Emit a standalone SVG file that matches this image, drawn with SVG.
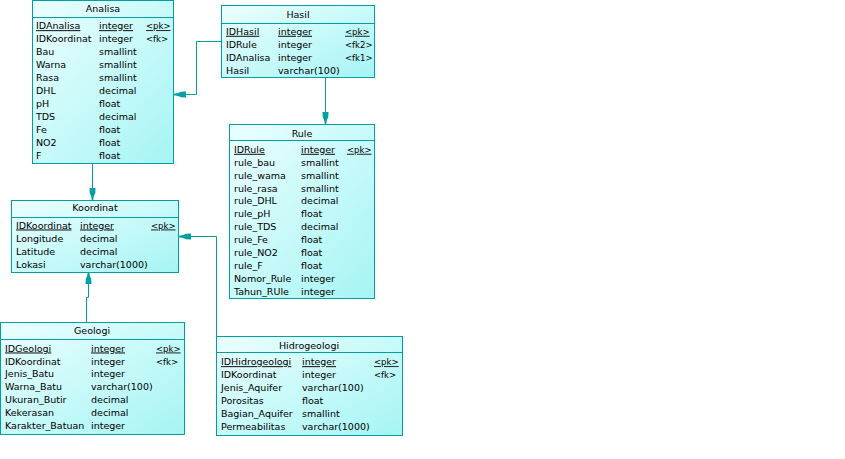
<svg xmlns="http://www.w3.org/2000/svg" width="845" height="459" viewBox="0 0 845 459">
  <style>
    .box { fill: url(#tbl); stroke: #00A0A0; stroke-width: 1; }
    .sep { stroke: #00A0A0; stroke-width: 1; }
    text { font-family: "DejaVu Sans", "Liberation Sans", sans-serif; font-size: 9.5px; fill: #000; }
    .ttl { text-anchor: middle; }
    .u { text-decoration: underline; }
    .k { font-size: 8.5px; }
    .link { fill: none; stroke: #00A0A0; stroke-width: 1; marker-end: url(#arr); }
  </style>
  <defs>
    <linearGradient id="tbl" x1="0" y1="0" x2="1" y2="1">
      <stop offset="0" stop-color="#ECFFFF"/>
      <stop offset="1" stop-color="#A6F4F4"/>
    </linearGradient>
    <marker id="arr" markerWidth="14" markerHeight="8" refX="13" refY="4" orient="auto" markerUnits="userSpaceOnUse" viewBox="0 0 14 8">
      <path d="M13,3.3 L9,2.6 L6,1.2 L1,1 L1,7 L6,6.8 L9,5.4 L13,4.7 Z" fill="#00A0A0"/>
    </marker>
  </defs>

  <!-- relationships -->
  <g id="connectors">
    <path class="link" d="M221,41.5 H196.5 V94.5 H174"/>
    <path class="link" d="M325.5,78 V124"/>
    <path class="link" d="M92.5,164 V200"/>
    <path class="link" d="M86.5,322 V297.5 H88.5 V272"/>
    <path class="link" d="M216.5,336 V236.5 H179"/>
  </g>

  <g id="analisa">
    <rect class="box" x="32.5" y="0.5" width="141" height="163"/>
    <line class="sep" x1="32.5" y1="17.5" x2="173.5" y2="17.5"/>
    <text class="ttl" x="103" y="11.8">Analisa</text>
    <text x="36" y="29.2" class="u">IDAnalisa</text><text x="99" y="29.2" class="u">integer</text><text x="146" y="29.2" class="k u">&lt;pk&gt;</text>
    <text x="36" y="42.2">IDKoordinat</text><text x="99" y="42.2">integer</text><text x="146" y="42.2" class="k">&lt;fk&gt;</text>
    <text x="36" y="55.2">Bau</text><text x="99" y="55.2">smallint</text>
    <text x="36" y="68.2">Warna</text><text x="99" y="68.2">smallint</text>
    <text x="36" y="81.2">Rasa</text><text x="99" y="81.2">smallint</text>
    <text x="36" y="94.2">DHL</text><text x="99" y="94.2">decimal</text>
    <text x="36" y="107.2">pH</text><text x="99" y="107.2">float</text>
    <text x="36" y="120.2">TDS</text><text x="99" y="120.2">decimal</text>
    <text x="36" y="133.2">Fe</text><text x="99" y="133.2">float</text>
    <text x="36" y="146.2">NO2</text><text x="99" y="146.2">float</text>
    <text x="36" y="159.2">F</text><text x="99" y="159.2">float</text>
  </g>

  <g id="hasil">
    <rect class="box" x="221.5" y="5.5" width="153" height="72"/>
    <line class="sep" x1="221.5" y1="23.5" x2="374.5" y2="23.5"/>
    <text class="ttl" x="298" y="17.5">Hasil</text>
    <text x="226" y="34.8" class="u">IDHasil</text><text x="278" y="34.8" class="u">integer</text><text x="345" y="34.8" class="k u">&lt;pk&gt;</text>
    <text x="226" y="47.7">IDRule</text><text x="278" y="47.7">integer</text><text x="345" y="47.7" class="k">&lt;fk2&gt;</text>
    <text x="226" y="60.6">IDAnalisa</text><text x="278" y="60.6">integer</text><text x="345" y="60.6" class="k">&lt;fk1&gt;</text>
    <text x="226" y="73.5">Hasil</text><text x="278" y="73.5">varchar(100)</text>
  </g>

  <g id="rule">
    <rect class="box" x="229.5" y="124.5" width="145" height="174"/>
    <line class="sep" x1="229.5" y1="140.5" x2="374.5" y2="140.5"/>
    <text class="ttl" x="302" y="136.8">Rule</text>
    <text x="234" y="152.8" class="u">IDRule</text><text x="301" y="152.8" class="u">integer</text><text x="347" y="152.8" class="k u">&lt;pk&gt;</text>
    <text x="234" y="165.7">rule_bau</text><text x="301" y="165.7">smallint</text>
    <text x="234" y="178.6">rule_wama</text><text x="301" y="178.6">smallint</text>
    <text x="234" y="191.5">rule_rasa</text><text x="301" y="191.5">smallint</text>
    <text x="234" y="204.4">rule_DHL</text><text x="301" y="204.4">decimal</text>
    <text x="234" y="217.3">rule_pH</text><text x="301" y="217.3">float</text>
    <text x="234" y="230.2">rule_TDS</text><text x="301" y="230.2">decimal</text>
    <text x="234" y="243.1">rule_Fe</text><text x="301" y="243.1">float</text>
    <text x="234" y="256.0">rule_NO2</text><text x="301" y="256.0">float</text>
    <text x="234" y="268.9">rule_F</text><text x="301" y="268.9">float</text>
    <text x="234" y="281.8">Nomor_Rule</text><text x="301" y="281.8">integer</text>
    <text x="234" y="294.7">Tahun_RUle</text><text x="301" y="294.7">integer</text>
  </g>

  <g id="koordinat">
    <rect class="box" x="11.5" y="200.5" width="167" height="72"/>
    <line class="sep" x1="11.5" y1="217.5" x2="178.5" y2="217.5"/>
    <text class="ttl" x="95" y="210.8">Koordinat</text>
    <text x="16" y="228.5" class="u">IDKoordinat</text><text x="80" y="228.5" class="u">integer</text><text x="151" y="228.5" class="k u">&lt;pk&gt;</text>
    <text x="16" y="241.5">Longitude</text><text x="80" y="241.5">decimal</text>
    <text x="16" y="254.5">Latitude</text><text x="80" y="254.5">decimal</text>
    <text x="16" y="267.5">Lokasi</text><text x="80" y="267.5">varchar(1000)</text>
  </g>

  <g id="geologi">
    <rect class="box" x="0.5" y="322.5" width="184" height="112"/>
    <line class="sep" x1="0.5" y1="339.5" x2="184.5" y2="339.5"/>
    <text class="ttl" x="92" y="334.2">Geologi</text>
    <text x="5" y="351.5" class="u">IDGeologi</text><text x="91" y="351.5" class="u">integer</text><text x="156" y="351.5" class="k u">&lt;pk&gt;</text>
    <text x="5" y="364.5">IDKoordinat</text><text x="91" y="364.5">integer</text><text x="156" y="364.5" class="k">&lt;fk&gt;</text>
    <text x="5" y="377.4">Jenis_Batu</text><text x="91" y="377.4">integer</text>
    <text x="5" y="390.4">Warna_Batu</text><text x="91" y="390.4">varchar(100)</text>
    <text x="5" y="403.3">Ukuran_Butir</text><text x="91" y="403.3">decimal</text>
    <text x="5" y="416.3">Kekerasan</text><text x="91" y="416.3">decimal</text>
    <text x="5" y="429.2">Karakter_Batuan</text><text x="91" y="429.2">integer</text>
  </g>

  <g id="hidrogeologi">
    <rect class="box" x="216.5" y="336.5" width="186" height="99"/>
    <line class="sep" x1="216.5" y1="352.5" x2="402.5" y2="352.5"/>
    <text class="ttl" x="309" y="348.8">Hidrogeologi</text>
    <text x="221" y="365.2" class="u">IDHidrogeologi</text><text x="302" y="365.2" class="u">integer</text><text x="374" y="365.2" class="k u">&lt;pk&gt;</text>
    <text x="221" y="378.2">IDKoordinat</text><text x="302" y="378.2">integer</text><text x="374" y="378.2" class="k">&lt;fk&gt;</text>
    <text x="221" y="391.2">Jenis_Aquifer</text><text x="302" y="391.2">varchar(100)</text>
    <text x="221" y="404.2">Porositas</text><text x="302" y="404.2">float</text>
    <text x="221" y="417.2">Bagian_Aquifer</text><text x="302" y="417.2">smallint</text>
    <text x="221" y="430.2">Permeabilitas</text><text x="302" y="430.2">varchar(1000)</text>
  </g>
</svg>
